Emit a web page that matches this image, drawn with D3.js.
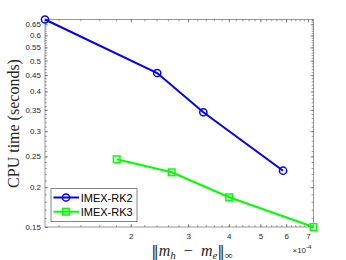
<!DOCTYPE html>
<html>
<head>
<meta charset="utf-8">
<script src="https://cdn.jsdelivr.net/npm/d3@7"></script>
<style>
  body { margin: 0; background: #fff; }
  .axis text { font-family: "Liberation Sans", Arial, sans-serif; font-size: 8px; fill: #262626; }
  .axis line { stroke: #555; stroke-width: 0.6; }
</style>
</head>
<body>
<svg width="346" height="260"></svg>
<script>
// data
var errRK2 = [1.09e-4, 2.41e-4, 3.34e-4, 5.87e-4];
var cpuRK2 = [0.673, 0.457, 0.344, 0.2254];
var errRK3 = [1.81e-4, 2.67e-4, 4.01e-4, 7.28e-4];
var cpuRK3 = [0.2448, 0.2228, 0.186, 0.15];
var seriesNames = ["IMEX-RK2", "IMEX-RK3"];
var xTicks = [2e-4, 3e-4, 4e-4, 5e-4, 6e-4, 7e-4];
var yTicks = [0.15, 0.2, 0.25, 0.3, 0.35, 0.4, 0.45, 0.5, 0.55, 0.6, 0.65];

var svg = d3.select("svg");
var L = 45, R = 313.5, T = 19.5, B = 227;

var xScale = d3.scaleLog().domain([1.09e-4, 7.28e-4]).range([L, R]);
var yScale = d3.scaleLog().domain([0.15, 0.673]).range([B, T]);

// minor tick values
var xMinor = d3.range(12, 73, 2).map(function(v){ return v * 1e-5; });
var yMinor = d3.range(15, 68).map(function(v){ return v / 100; });

function minor(axis, vals) {
	return axis.tickValues(vals).tickFormat("").tickSizeInner(-1.8).tickSizeOuter(0);
}

// minor ticks
svg.append("g").attr("class", "axis").attr("transform", "translate(0," + B + ")")
	.call(minor(d3.axisBottom(xScale), xMinor));
svg.append("g").attr("class", "axis").attr("transform", "translate(0," + T + ")")
	.call(minor(d3.axisTop(xScale), xMinor));
svg.append("g").attr("class", "axis").attr("transform", "translate(" + L + ",0)")
	.call(minor(d3.axisLeft(yScale), yMinor));
svg.append("g").attr("class", "axis").attr("transform", "translate(" + R + ",0)")
	.call(minor(d3.axisRight(yScale), yMinor));

// major ticks
svg.append("g").attr("class", "axis").attr("transform", "translate(0," + B + ")")
	.call(d3.axisBottom(xScale).tickValues(xTicks)
		.tickFormat(function(d){ return Math.round(d * 1e4); })
		.tickSizeInner(-3).tickSizeOuter(0).tickPadding(6.5));
svg.append("g").attr("class", "axis").attr("transform", "translate(0," + T + ")")
	.call(d3.axisTop(xScale).tickValues(xTicks).tickFormat("").tickSizeInner(-3).tickSizeOuter(0));
svg.append("g").attr("class", "axis").attr("transform", "translate(" + L + ",0)")
	.call(d3.axisLeft(yScale).tickValues(yTicks)
		.tickFormat(function(d){ return String(+d.toFixed(2)); })
		.tickSizeInner(-3).tickSizeOuter(0).tickPadding(4));
svg.append("g").attr("class", "axis").attr("transform", "translate(" + R + ",0)")
	.call(d3.axisRight(yScale).tickValues(yTicks).tickFormat("").tickSizeInner(-3).tickSizeOuter(0));

svg.selectAll(".axis .domain").remove();

// box
svg.append("rect")
	.attr("x", L).attr("y", T).attr("width", R - L).attr("height", B - T)
	.attr("fill", "none").attr("stroke", "#555").attr("stroke-width", 0.6);

var line = d3.line()
	.x(function(d){ return xScale(d[0]); })
	.y(function(d){ return yScale(d[1]); });

var rk2 = d3.zip(errRK2, cpuRK2);
var rk3 = d3.zip(errRK3, cpuRK3);

svg.append("path").datum(rk2).attr("d", line)
	.attr("fill", "none").attr("stroke", "#0000ff").attr("stroke-width", 2);
svg.selectAll(".m2").data(rk2).enter().append("circle")
	.attr("cx", function(d){ return xScale(d[0]); })
	.attr("cy", function(d){ return yScale(d[1]); })
	.attr("r", 3.6)
	.attr("fill", "none").attr("stroke", "#0000ff").attr("stroke-width", 1.5);

svg.append("path").datum(rk3).attr("d", line)
	.attr("fill", "none").attr("stroke", "#00ff00").attr("stroke-width", 2);
svg.selectAll(".m3").data(rk3).enter().append("rect")
	.attr("x", function(d){ return xScale(d[0]) - 3.3; })
	.attr("y", function(d){ return yScale(d[1]) - 3.3; })
	.attr("width", 6.6).attr("height", 6.6)
	.attr("fill", "none").attr("stroke", "#00ff00").attr("stroke-width", 1.5);

// legend
var leg = svg.append("g");
leg.append("rect").attr("x", 51).attr("y", 188.7).attr("width", 86).attr("height", 33)
	.attr("fill", "#fff").attr("stroke", "#333").attr("stroke-width", 0.6);
var colors = ["#0000ff", "#00ff00"];
seriesNames.forEach(function(name, i) {
	var yy = 197.5 + i * 14.2;
	leg.append("line").attr("x1", 53.5).attr("x2", 79).attr("y1", yy).attr("y2", yy)
		.attr("stroke", colors[i]).attr("stroke-width", 2);
	if (i === 0) {
		leg.append("circle").attr("cx", 66).attr("cy", yy).attr("r", 3.6)
			.attr("fill", "none").attr("stroke", colors[i]).attr("stroke-width", 1.5);
	} else {
		leg.append("rect").attr("x", 66 - 3.3).attr("y", yy - 3.3).attr("width", 6.6).attr("height", 6.6)
			.attr("fill", "none").attr("stroke", colors[i]).attr("stroke-width", 1.5);
	}
	leg.append("text").attr("x", 80.7).attr("y", yy + 4)
		.style("font-family", "Liberation Sans, Arial, sans-serif").style("font-size", "11px")
		.attr("fill", "#000").text(name);
});

// axis labels
svg.append("text")
	.attr("transform", "translate(18.5,123.5) rotate(-90)")
	.attr("text-anchor", "middle")
	.style("font-family", "Liberation Serif, Times New Roman, serif").style("font-size", "16px")
	.attr("fill", "#262626")
	.text("CPU time (seconds)");

var xl = svg.append("text")
	.attr("x", 192).attr("y", 255.5)
	.attr("text-anchor", "middle")
	.style("font-family", "Liberation Serif, Times New Roman, serif").style("font-size", "16px")
	.attr("fill", "#262626");
xl.append("tspan").style("font-family", "DejaVu Serif").style("font-size", "15px").text("\u2016");
xl.append("tspan").style("font-style", "italic").text("m");
xl.append("tspan").attr("dy", 3).style("font-style", "italic").style("font-size", "11px").text("h");
xl.append("tspan").attr("dy", -3).text("\u2002\u2212\u2002");
xl.append("tspan").style("font-style", "italic").text("m");
xl.append("tspan").attr("dy", 3).style("font-style", "italic").style("font-size", "11px").text("e");
xl.append("tspan").attr("dy", -3).style("font-family", "DejaVu Serif").style("font-size", "15px").text("\u2016");
xl.append("tspan").attr("dy", 3).style("font-size", "11px").text("\u221e");

var ex = svg.append("text")
	.attr("x", 292.5).attr("y", 253)
	.style("font-family", "Liberation Sans, Arial, sans-serif").style("font-size", "8px")
	.attr("fill", "#262626");
ex.append("tspan").text("\u00d710");
ex.append("tspan").attr("dy", -4).style("font-size", "6px").text("-4");
</script>
</body>
</html>
